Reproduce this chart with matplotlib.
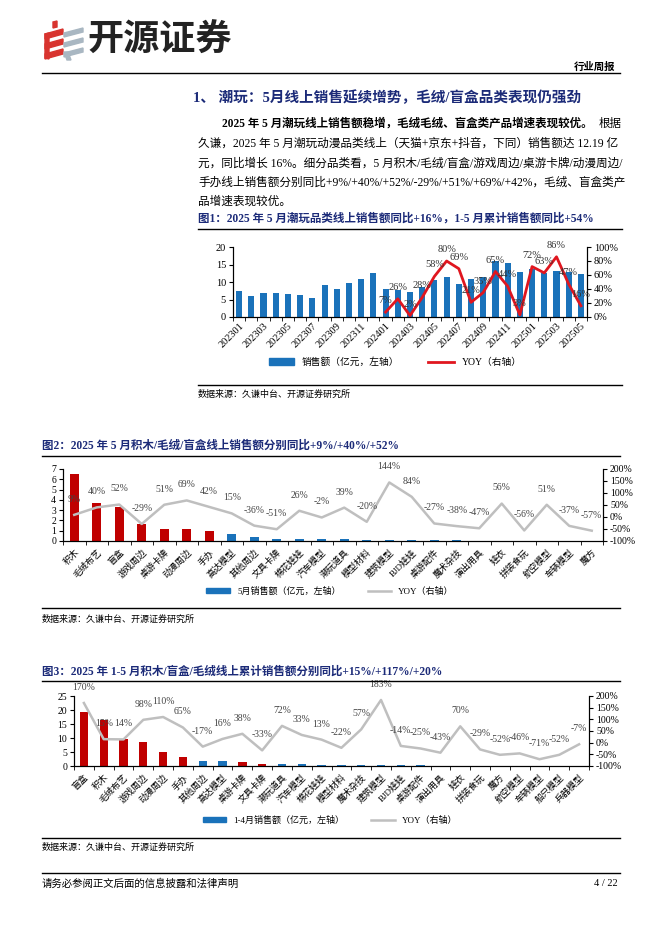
import matplotlib
matplotlib.use('Agg')
import matplotlib.pyplot as plt
import numpy as np
from matplotlib.patches import Polygon, Rectangle
from matplotlib.lines import Line2D

plt.rcParams['font.family'] = ['Liberation Serif', 'Noto Sans CJK SC']
plt.rcParams['axes.unicode_minus'] = False

# ---- data ----
months = ['202301', '202302', '202303', '202304', '202305', '202306', '202307', '202308',
          '202309', '202310', '202311', '202312', '202401', '202402', '202403', '202404',
          '202405', '202406', '202407', '202408', '202409', '202410', '202411', '202412',
          '202501', '202502', '202503', '202504', '202505']
sales_month = [7.4, 6.0, 6.9, 6.8, 6.5, 6.2, 5.5, 9.1, 7.9, 9.8, 10.8, 12.5,
               7.9, 7.8, 7.1, 8.7, 10.5, 11.5, 9.3, 11.0, 11.5, 16.1, 15.5, 12.8,
               13.6, 12.6, 13.2, 13.0, 12.19]
yoy_month = [np.nan] * 12 + [7, 26, 2, 28, 58, 80, 69, 21, 35, 65, 44, 3,
                             72, 63, 86, 47, 16]

cats_may = ['积木', '毛绒布艺', '盲盒', '游戏周边', '桌游卡牌', '动漫周边', '手办', '高达模型',
            '其他周边', '文具卡牌', '棉花娃娃', '汽车模型', '潮玩道具', '模型材料', '建筑模型',
            'BJD娃娃', '桌游配件', '魔术杂技', '演出用具', '娃衣', '拼装食玩', '航空模型',
            '车辆模型', '魔方']
sales_may = [6.5, 3.7, 3.3, 1.65, 1.15, 1.15, 0.98, 0.7, 0.38, 0.22, 0.18, 0.16, 0.15,
             0.1, 0.09, 0.06, 0.05, 0.05, 0.04, 0.03, 0.02, 0.02, 0.02, 0.01]
yoy_may = [9, 40, 52, -29, 51, 69, 42, 15, -36, -51, 26, -2, 39, -20, 144, 84, -27,
           -38, -47, 56, -56, 51, -37, -57]
hl_may = [1, 1, 1, 1, 1, 1, 1] + [0] * 17

cats_ytd = ['盲盒', '积木', '毛绒布艺', '游戏周边', '动漫周边', '手办', '其他周边', '高达模型',
            '桌游卡牌', '文具卡牌', '潮玩道具', '汽车模型', '棉花娃娃', '模型材料', '魔术杂技',
            '建筑模型', 'BJD娃娃', '桌游配件', '演出用具', '娃衣', '拼装食玩', '魔方', '航空模型',
            '车辆模型', '船只模型', '兵器模型']
sales_ytd = [19.3, 16.4, 9.7, 8.6, 5.0, 3.3, 1.7, 1.7, 1.5, 0.8, 0.6, 0.6, 0.5, 0.4,
             0.3, 0.3, 0.25, 0.2, 0.15, 0.12, 0.1, 0.08, 0.07, 0.06, 0.04, 0.03]
yoy_ytd = [170, 15, 14, 98, 110, 65, -17, 16, 38, -33, 72, 33, 13, -22, 57, 183, -14,
           -25, -43, 70, -29, -52, -46, -71, -52, -7]
hl_ytd = [1, 1, 1, 1, 1, 1, 0, 0, 1, 1] + [0] * 16

BLUE = '#1A72BA'
DRED = '#C00000'
RED = '#E0161F'
GREY = '#BFBFBF'
NAVY = '#1B2A78'

W, H = 662, 936
fig = plt.figure(figsize=(W / 100, H / 100), dpi=100)


def rect(l, t, r, b):
    return [l / W, 1 - b / H, (r - l) / W, (b - t) / H]


def txt(x, y, s, **kw):
    fig.text(x / W, 1 - y / H, s, **kw)


def hline(x0, x1, y, lw=1.0):
    fig.add_artist(Line2D([x0 / W, x1 / W], [1 - y / H] * 2, color='black', lw=lw))


def shape(pts, color):
    fig.add_artist(Polygon([(p[0] / W, 1 - p[1] / H) for p in pts], closed=True,
                           color=color, transform=fig.transFigure))


# ---- header: logo ----
shape([(53, 22), (57, 21), (57, 27), (53, 28)], '#D8342F')
for y in (30, 40, 50):
    shape([(45, y + 4), (63, y - 1), (63, y + 4), (45, y + 9)], '#D8342F')
shape([(45, 34), (49, 33), (49, 59), (45, 58)], '#D8342F')
for y in (28, 38, 48):
    shape([(64, y + 5), (83, y), (83, y + 4), (64, y + 9)], '#A9B7C2')
shape([(64, 52), (68, 52), (71, 60), (67, 60)], '#A9B7C2')
txt(87, 40, '开源证券', fontsize=26, fontweight='bold', va='center', color='#222222',
    family='Noto Sans CJK SC')
txt(615, 67, '行业周报', fontsize=7.5, fontweight='bold', ha='right', va='center')
hline(42, 620, 73)

txt(193, 98, '1、 潮玩：5月线上销售延续增势，毛绒/盲盒品类表现仍强劲', fontsize=10.5,
    fontweight='bold', color=NAVY, va='center')

para = [
    '久谦，2025 年 5 月潮玩动漫品类线上（天猫+京东+抖音，下同）销售额达 12.19 亿',
    '元，同比增长 16%。细分品类看，5 月积木/毛绒/盲盒/游戏周边/桌游卡牌/动漫周边/',
    '手办线上销售额分别同比+9%/+40%/+52%/-29%/+51%/+69%/+42%，毛绒、盲盒类产',
    '品增速表现较优。',
]
txt(222, 124, '2025 年 5 月潮玩线上销售额稳增，毛绒毛绒、盲盒类产品增速表现较优。',
    fontsize=8.3, fontweight='bold', va='center')
txt(622, 124, '根据', fontsize=8.3, ha='right', va='center')
for k, line in enumerate(para):
    txt(198, 144 + k * 19.3, line, fontsize=8.4, va='center')

# ---- figure 1 ----
txt(198, 219, '图1：2025 年 5 月潮玩品类线上销售额同比+16%，1-5 月累计销售额同比+54%',
    fontsize=8.3, fontweight='bold', color=NAVY, va='center')
hline(198, 622, 229)

ax1 = fig.add_axes(rect(233, 247, 587, 317))
x1 = np.arange(len(months))
ax1.bar(x1, sales_month, width=0.5, color=BLUE)
ax1.set_ylim(0, 20)
ax1.set_yticks([0, 5, 10, 15, 20])
ax1.set_xlim(-0.5, len(months) - 0.5)
ax1.set_xticks(x1[::2])
ax1.set_xticklabels(months[::2], rotation=45, ha='right', rotation_mode='anchor', fontsize=7.5)
ax1.set_xticks(np.arange(-0.5, len(months), 1), minor=True)
ax1.tick_params(axis='x', which='major', length=0, pad=3)
ax1.tick_params(axis='x', which='minor', length=3, direction='out')
ax1.tick_params(axis='y', labelsize=7.5, length=3, direction='out', pad=2)
ax1.spines['top'].set_visible(False)
ax1r = ax1.twinx()
ax1r.plot(x1, yoy_month, color=RED, lw=2)
ax1r.set_ylim(0, 100)
ax1r.set_yticks(np.arange(0, 101, 20))
ax1r.set_yticklabels([f'{v}%' for v in range(0, 101, 20)])
ax1r.tick_params(axis='y', labelsize=7.5, length=3, direction='out', pad=2)
ax1r.spines['top'].set_visible(False)
for xi, v in zip(x1, yoy_month):
    if not np.isnan(v):
        ax1r.annotate(f'{v:.0f}%', (xi, v), xytext=(0, 5), textcoords='offset points',
                      ha='center', va='bottom', fontsize=7.5, color='#333333')

h1 = [Rectangle((0, 0), 1, 1, color=BLUE), Line2D([], [], color=RED, lw=2)]
fig.legend(h1, ['销售额（亿元，左轴）', 'YOY（右轴）'], loc='center', ncol=2,
           bbox_to_anchor=(395 / W, 1 - 362 / H), frameon=False, fontsize=7,
           handlelength=2.6, handleheight=0.6, columnspacing=3)
hline(198, 622, 385)
txt(198, 394, '数据来源：久谦中台、开源证券研究所', fontsize=6.5, va='center')


# ---- category charts ----
def cat_chart(box, cats, sales, yoy, hl, ymax, yticks, legend_label, legend_y):
    ax = fig.add_axes(rect(*box))
    x = np.arange(len(cats))
    colors = [DRED if h else BLUE for h in hl]
    ax.bar(x, sales, width=0.42, color=colors)
    ax.set_ylim(0, ymax)
    ax.set_yticks(yticks)
    ax.set_xlim(-0.5, len(cats) - 0.5)
    ax.set_xticks(x)
    ax.set_xticklabels(cats, rotation=45, ha='right', rotation_mode='anchor', fontsize=6.5)
    ax.set_xticks(np.arange(-0.5, len(cats), 1), minor=True)
    ax.tick_params(axis='x', which='major', length=0, pad=5)
    ax.tick_params(axis='x', which='minor', length=3, direction='out')
    ax.tick_params(axis='y', labelsize=7, length=3, direction='out', pad=2)
    ax.spines['top'].set_visible(False)
    axr = ax.twinx()
    axr.plot(x, yoy, color=GREY, lw=1.8)
    axr.set_ylim(-100, 200)
    axr.set_yticks(np.arange(-100, 201, 50))
    axr.set_yticklabels([f'{v}%' for v in range(-100, 201, 50)])
    axr.tick_params(axis='y', labelsize=7, length=3, direction='out', pad=2)
    axr.spines['top'].set_visible(False)
    for xi, v in zip(x, yoy):
        axr.annotate(f'{v}%', (xi, v), xytext=(0, 8), textcoords='offset points',
                     ha='center', va='bottom', fontsize=7, color='#444444')
    hh = [Rectangle((0, 0), 1, 1, color=BLUE), Line2D([], [], color=GREY, lw=1.8)]
    fig.legend(hh, [legend_label, 'YOY（右轴）'], loc='center', ncol=2,
               bbox_to_anchor=(330 / W, 1 - legend_y / H), frameon=False, fontsize=6.5,
               handlelength=2.6, handleheight=0.6, columnspacing=3)


txt(42, 446, '图2：2025 年 5 月积木/毛绒/盲盒线上销售额分别同比+9%/+40%/+52%',
    fontsize=8.3, fontweight='bold', color=NAVY, va='center')
hline(42, 620, 456)
cat_chart((63, 469, 603, 541), cats_may, sales_may, yoy_may, hl_may, 7, range(0, 8),
          '5月销售额（亿元，左轴）', 591)
hline(42, 620, 608)
txt(42, 619, '数据来源：久谦中台、开源证券研究所', fontsize=6.5, va='center')

txt(42, 672, '图3：2025 年 1-5 月积木/盲盒/毛绒线上累计销售额分别同比+15%/+117%/+20%',
    fontsize=8.3, fontweight='bold', color=NAVY, va='center')
hline(42, 620, 681)
cat_chart((74, 696, 589, 766), cats_ytd, sales_ytd, yoy_ytd, hl_ytd, 25, range(0, 26, 5),
          '1-4月销售额（亿元，左轴）', 820)
hline(42, 620, 838)
txt(42, 847, '数据来源：久谦中台、开源证券研究所', fontsize=6.5, va='center')

# ---- footer ----
hline(42, 620, 873)
txt(42, 884, '请务必参阅正文后面的信息披露和法律声明', fontsize=7.5, va='center')
txt(618, 884, '4 / 22', fontsize=7.5, va='center', ha='right')

fig.savefig('out.png', dpi=100)
